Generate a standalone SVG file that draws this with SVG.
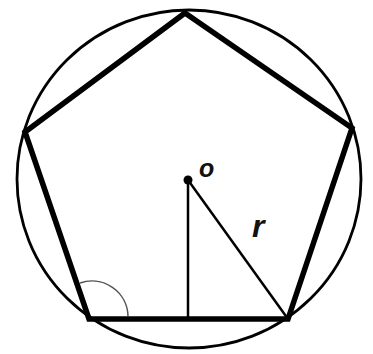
<svg xmlns="http://www.w3.org/2000/svg" width="373" height="354" viewBox="0 0 373 354">
<style>
.circ{fill:none;stroke:#000;stroke-width:2.8}
.pent{fill:none;stroke:#000;stroke-width:5.5;stroke-linejoin:miter}
.thin{fill:none;stroke:#000;stroke-width:2.5}
.arc{fill:none;stroke:#555;stroke-width:1.5}
.lbl{font-family:"Liberation Sans",Arial,sans-serif;font-style:italic;font-weight:bold;fill:#111}
</style>
<rect width="373" height="354" fill="#fff"/>
<g id="circle"><ellipse class="circ" cx="189" cy="179" rx="172" ry="169"/></g>
<g id="pentagon"><polygon class="pent" points="185,13 352,128 288,319 89,319 25,132"/></g>
<g id="connectors">
<line class="thin" x1="188" y1="180" x2="188" y2="320" stroke-width="3"/>
<line class="thin" x1="188" y1="180" x2="288" y2="319"/>
<path class="arc" d="M 80 283 A 36 36 0 0 1 128 316"/>
</g>
<g id="center"><circle cx="188" cy="180" r="4.5" fill="#000"/>
<text class="lbl" x="199" y="177" font-size="25">o</text></g>
<g id="radius"><text class="lbl" x="252" y="237" font-size="32">r</text></g>
</svg>
